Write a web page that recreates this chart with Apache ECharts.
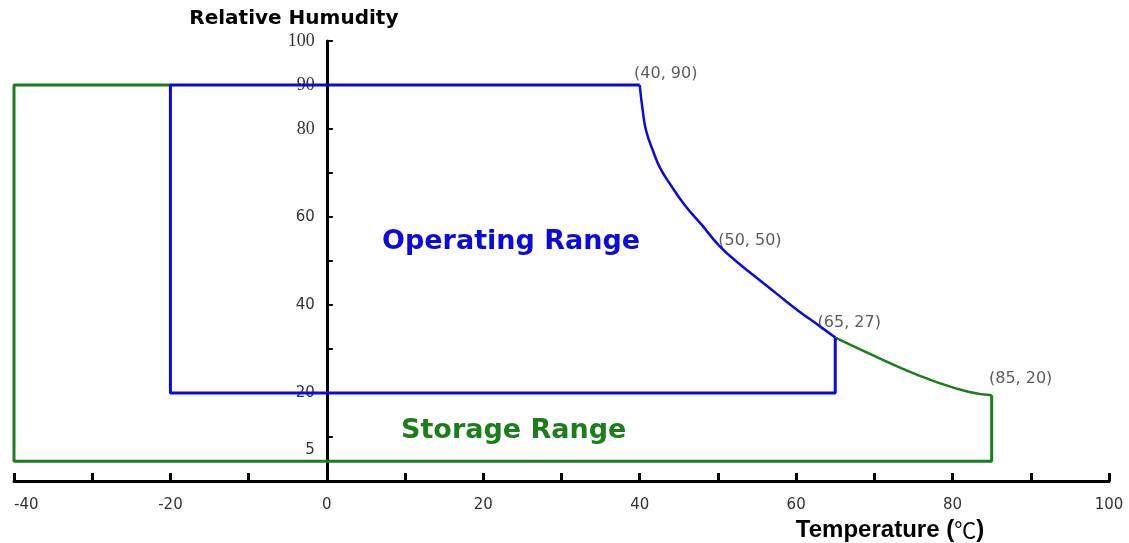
<!DOCTYPE html>
<html><head><meta charset="utf-8">
<script src="https://cdn.jsdelivr.net/npm/echarts@6/dist/echarts.min.js"></script>
<style>html,body{margin:0;padding:0;background:#fff}#c{width:1129px;height:543px}</style>
</head><body><div id="c"></div>
<script>
// ---- data ----
const xTickValues = [-40, -20, 0, 20, 40, 60, 80, 100];
const yTickValues = [100, 90, 80, 60, 40, 20, 10];
const yTickTexts  = ['100', '90', '80', '60', '40', '20', '5'];
const operatingBox   = [[40, 90], [-20, 90], [-20, 20], [65, 20], [65, 32.6]];
const operatingCurve = [[40, 90], [40.4, 84.0], [40.84, 79.5], [41.73, 74.9], [42.62, 71.1], [43.95, 67.3], [45.72, 62.8], [47.94, 58.2], [50.15, 53.5], [52.37, 49.9], [55.03, 46.1], [57.69, 42.3], [60.35, 38.6], [63.01, 35.2], [65, 32.6]];
const storageBox     = [[-20, 90], [-40, 90], [-40, 4.5], [85, 4.5], [85, 19.5]];
const storageCurve   = [[65, 32.6], [69.3, 29.0], [73.5, 25.6], [77.8, 22.6], [82.0, 20.3], [85, 19.5]];
const pointCoords = [[40, 90], [50, 50], [65, 32.6], [85, 19.5]];
const pointTexts  = ['(40, 90)', '(50, 50)', '(65, 27)', '(85, 20)'];
const regionNames = ['Operating Range', 'Storage Range'];

// ---- styles ----
const BLUE = '#0a0ae0';
const GREEN = '#1b7d1b';
const labelOffsets = [[26, -11], [32, -20], [14, -15], [29, -16]];
const serifVals = [100, 90, 80];
const GRID_LEFT = 14, GRID_W = 1095;
const zeroOffset = -GRID_W * 40 / 140; // move y axis to x = 0

const chart = echarts.init(document.getElementById('c'), null, {renderer: 'canvas'});
chart.setOption({
  animation: false,
  backgroundColor: '#fff',
  grid: {left: GRID_LEFT, width: GRID_W, top: 41, bottom: 62, containLabel: false, outerBoundsMode: 'none'},
  xAxis: {
    type: 'value', min: -40, max: 100, interval: 10,
    name: '{a|Temperature (}{b|℃}{a|)}', nameLocation: 'middle', nameGap: 31,
    nameTextStyle: {
      padding: [0, 0, 0, 657],
      rich: {
        a: {fontFamily: 'Liberation Sans', fontWeight: 'bold', fontSize: 24, color: '#000'},
        b: {fontFamily: 'Noto Sans CJK SC', fontWeight: 'normal', fontSize: 22, color: '#000'}
      }
    },
    axisLine: {onZero: false, lineStyle: {color: '#000', width: 3}},
    axisTick: {inside: true, length: 8, interval: 0, lineStyle: {color: '#000', width: 3}},
    axisLabel: {
      margin: 17, color: '#333', fontFamily: 'DejaVu Sans', fontSize: 15,
      interval: 0, alignMinLabel: 'left',
      formatter: v => xTickValues.includes(v) ? String(v) : ''
    },
    splitLine: {show: false}
  },
  yAxis: {
    type: 'value', min: 0, max: 100, interval: 10,
    offset: zeroOffset,
    name: 'Relative Humudity', nameLocation: 'end', nameGap: 12,
    nameTextStyle: {fontFamily: 'DejaVu Sans', fontWeight: 'bold', fontSize: 20, color: '#000', padding: [0, 66, 0, 0]},
    axisLine: {onZero: false, lineStyle: {color: '#000', width: 3}},
    axisTick: {inside: true, length: 6, lineStyle: {color: '#000', width: 2}},
    axisLabel: {
      margin: 12, color: '#333', fontSize: 15,
      formatter: v => {
        const i = yTickValues.indexOf(v);
        if (i < 0) return '';
        if (serifVals.includes(v)) return '{s|' + yTickTexts[i] + '}';
        if (v === 10) return '{f|' + yTickTexts[i] + '}';
        return '{n|' + yTickTexts[i] + '}';
      },
      rich: {
        s: {fontFamily: 'Liberation Serif', fontSize: 18, color: '#333'},
        n: {fontFamily: 'DejaVu Sans', fontSize: 15, color: '#333'},
        f: {fontFamily: 'DejaVu Sans', fontSize: 15, color: '#333', padding: [26, 0, 0, 0]}
      }
    },
    splitLine: {show: false}
  },
  graphic: [
    {type: 'text', left: 382, top: 228, style: {text: regionNames[0], fill: BLUE, font: 'bold 27px "DejaVu Sans"'}},
    {type: 'text', left: 401, top: 417, style: {text: regionNames[1], fill: GREEN, font: 'bold 27px "DejaVu Sans"'}}
  ],
  series: [
    {type: 'line', data: storageBox, symbol: 'none', lineStyle: {color: GREEN, width: 3}, z: 2},
    {type: 'line', data: storageCurve, symbol: 'none', smooth: 0.5, lineStyle: {color: GREEN, width: 2.5}, z: 2},
    {type: 'line', data: operatingBox, symbol: 'none', lineStyle: {color: BLUE, width: 3}, z: 3},
    {type: 'line', data: operatingCurve, symbol: 'none', smooth: 0.5, lineStyle: {color: BLUE, width: 2.5}, z: 3},
    {
      type: 'scatter', symbolSize: 0, z: 4,
      data: pointCoords.map((c, i) => ({
        value: c,
        label: {show: true, position: 'inside', offset: labelOffsets[i], formatter: pointTexts[i],
                color: '#333', fontFamily: 'DejaVu Sans', fontSize: 16}
      }))
    }
  ]
});
</script></body></html>
